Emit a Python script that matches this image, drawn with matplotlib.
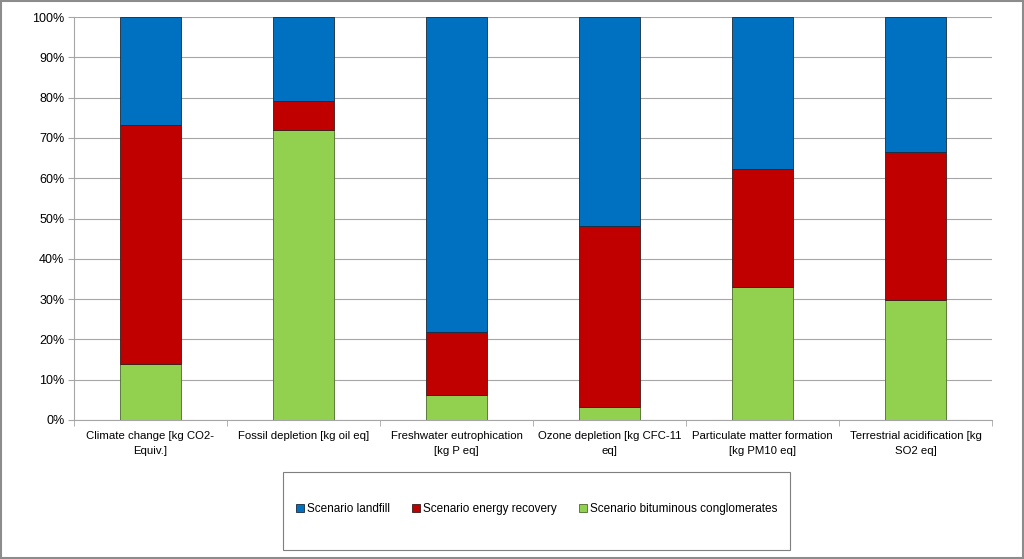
import matplotlib
matplotlib.use("Agg")
import matplotlib.pyplot as plt
import numpy as np
from matplotlib.patches import Rectangle
from matplotlib.ticker import PercentFormatter, FixedLocator

plt.rcParams['font.family'] = ['Liberation Sans', 'DejaVu Sans']

categories = ["Climate change [kg CO2-\nEquiv.]", "Fossil depletion [kg oil eq]",
              "Freshwater eutrophication\n[kg P eq]", "Ozone depletion [kg CFC-11\neq]",
              "Particulate matter formation\n[kg PM10 eq]", "Terrestrial acidification [kg\nSO2 eq]"]
bituminous = [13.9, 72.0, 6.2, 3.2, 33.0, 29.7]
energy_recovery = [59.2, 7.2, 15.6, 45.0, 29.4, 36.8]
landfill = [100 - b - e for b, e in zip(bituminous, energy_recovery)]

series_names = ["Scenario landfill", "Scenario energy recovery", "Scenario bituminous conglomerates"]
colors = {"landfill": "#0070C0", "energy": "#C00000", "bit": "#92D050"}

fig = plt.figure(figsize=(10.24, 5.59), dpi=100)
ax = fig.add_axes([74/1024, 1-420/559, (992-74)/1024, (420-17)/559])

x = np.arange(len(categories))
w = 0.4
b1 = ax.bar(x, bituminous, w, color=colors["bit"], edgecolor="#4a6b2a", linewidth=0.6, zorder=3,
            label=series_names[2])
b2 = ax.bar(x, energy_recovery, w, bottom=bituminous, color=colors["energy"], edgecolor="#3a1a1a",
            linewidth=0.6, zorder=3, label=series_names[1])
bottom3 = [b + e for b, e in zip(bituminous, energy_recovery)]
b3 = ax.bar(x, landfill, w, bottom=bottom3, color=colors["landfill"], edgecolor="#1a2a3a",
            linewidth=0.6, zorder=3, label=series_names[0])

ax.set_xlim(-0.5, len(categories) - 0.5)
ax.set_ylim(0, 100)
ax.set_yticks(np.arange(0, 101, 10))
ax.yaxis.set_major_formatter(PercentFormatter(decimals=0))
ax.grid(axis='y', color='#a6a6a6', linewidth=0.8, zorder=0)
for s in ['top', 'right']:
    ax.spines[s].set_visible(False)
for s in ['left', 'bottom']:
    ax.spines[s].set_color('#a6a6a6')
ax.tick_params(axis='y', length=4, color='#a6a6a6', labelsize=9, pad=3)
ax.set_xticks(x)
ax.set_xticklabels(categories, fontsize=8.2, linespacing=1.65)
ax.tick_params(axis='x', length=0, pad=8)
ax.xaxis.set_minor_locator(FixedLocator(np.arange(-0.5, len(categories), 1.0)))
ax.tick_params(axis='x', which='minor', length=4, color='#a6a6a6')

handles = [b3, b2, b1]
leg = fig.legend(handles, series_names, loc='center', ncol=3,
                 bbox_to_anchor=(283/1024, 1-546/559, (790-283)/1024, (546-472)/559),
                 frameon=False, fontsize=8.5, handlelength=0.65, handleheight=0.65,
                 handletextpad=0.25, columnspacing=1.9, borderaxespad=0)

fig.patches.append(Rectangle((283/1024, 1-550/559), (790-283)/1024, (550-472)/559,
                             transform=fig.transFigure, fill=False, edgecolor='#7f7f7f', linewidth=0.8))
fig.patches.append(Rectangle((0.001, 0.001), 0.998, 0.998, transform=fig.transFigure,
                             fill=False, edgecolor='#8c8c8c', linewidth=1.5))

fig.savefig("out.png", dpi=100)
